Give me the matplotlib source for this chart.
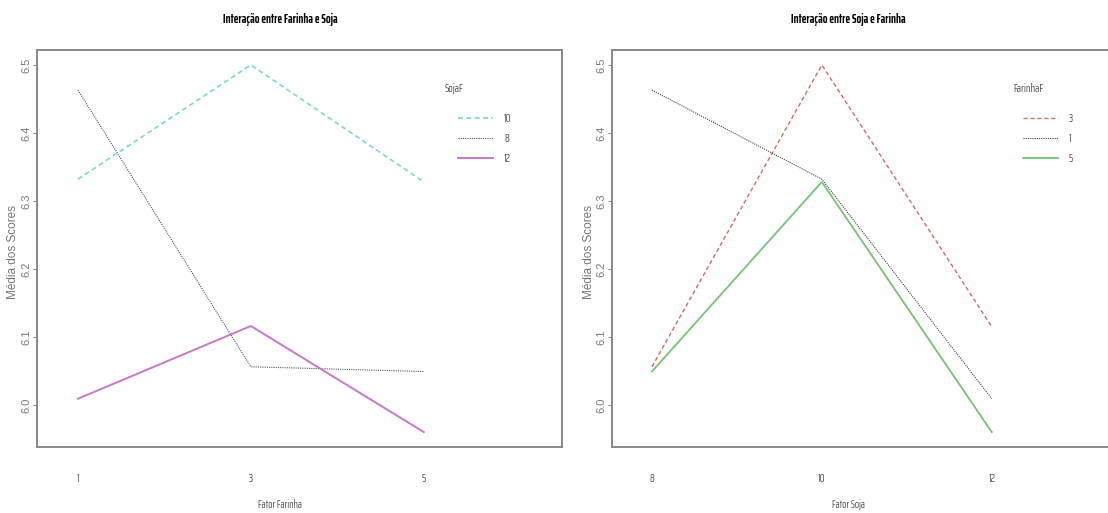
import matplotlib
matplotlib.use("Agg")
import matplotlib.pyplot as plt

# médias
farinha = [1, 3, 5]
soja = [8, 10, 12]
soja_labels = ["10", "8", "12"]
media_soja10 = [6.332, 6.500, 6.328]
media_soja8 = [6.463, 6.056, 6.049]
media_soja12 = [6.009, 6.116, 5.960]

farinha_labels = ["3", "1", "5"]
media_farinha3 = [6.056, 6.500, 6.115]
media_farinha1 = [6.463, 6.332, 6.009]
media_farinha5 = [6.049, 6.328, 5.960]

yticks = [6.0, 6.1, 6.2, 6.3, 6.4, 6.5]

narrow = ["Saira ExtraCondensed", "Archivo Narrow", "DejaVu Sans"]
wide = ["Liberation Sans", "DejaVu Sans"]
W, H = 1108, 513
fig = plt.figure(figsize=(W / 100, H / 100), dpi=100)


def fx(px):
    return px / W


def fy(py):
    return 1 - py / H


def setup(ax, xticks, xlim):
    ax.set_xlim(*xlim)
    ax.set_ylim(5.938, 6.522)
    ax.set_xticks(xticks)
    ax.set_xticklabels([str(v) for v in xticks], family=narrow, fontsize=8.5, color="#555555")
    ax.set_yticks(yticks)
    ax.set_yticklabels([f"{v:.1f}" for v in yticks], rotation=90, va="center",
                       family=wide, fontsize=8, color="#7a7a7a")
    ax.tick_params(axis="x", length=0, pad=19)
    ax.tick_params(axis="y", length=3, width=0.8, color="#888888", pad=1)
    for s in ax.spines.values():
        s.set_color("#888888")
        s.set_linewidth(1.4)


ax1 = fig.add_axes([fx(37), fy(447), fx(525), 397 / H])
l1, = ax1.plot(farinha, media_soja10, color="#7fd6d6", ls=(0, (3, 2)), lw=1.2)
l2, = ax1.plot(farinha, media_soja8, color="#555555", ls=(0, (1, 1)), lw=0.8)
l3, = ax1.plot(farinha, media_soja12, color="#c878c8", ls="-", lw=1.4)
setup(ax1, farinha, (0.526, 6.6))

ax2 = fig.add_axes([fx(612), fy(447), fx(525), 397 / H])
r1, = ax2.plot(soja, media_farinha3, color="#d46a6a", ls=(0, (3, 2)), lw=1.0)
r2, = ax2.plot(soja, media_farinha1, color="#444444", ls=(0, (1, 1)), lw=0.8)
r3, = ax2.plot(soja, media_farinha5, color="#74c474", ls="-", lw=1.3)
setup(ax2, soja, (7.53, 13.71))

for handles, labels, lx, tx, title in [
        ([l1, l2, l3], soja_labels, 458, 445, "SojaF"),
        ([r1, r2, r3], farinha_labels, 1023, 1013, "FarinhaF")]:
    leg = fig.legend(handles, labels, loc="upper left",
                     bbox_to_anchor=(fx(lx), fy(113)), frameon=False,
                     borderpad=0, borderaxespad=0, handlelength=3.0,
                     handletextpad=0.9, labelspacing=0.75,
                     prop={"family": narrow, "size": 8.5})
    for t in leg.get_texts():
        t.set_color("#555555")
    fig.text(fx(tx), fy(88), title, family=narrow, fontsize=8.5, color="#555555",
             va="center", ha="left")

fig.text(fx(280), fy(20), "Interação entre Farinha e Soja", family=narrow,
         fontsize=9, weight="bold", ha="center", va="center")
fig.text(fx(848), fy(20), "Interação entre Soja e Farinha", family=narrow,
         fontsize=9, weight="bold", ha="center", va="center")

fig.text(fx(280), fy(505), "Fator Farinha", family=narrow, fontsize=8,
         color="#555555", ha="center", va="center")
fig.text(fx(848), fy(505), "Fator Soja", family=narrow, fontsize=8,
         color="#555555", ha="center", va="center")

for x in (13, 589):
    fig.text(fx(x), fy(252), "Média dos Scores", family=wide,
             fontsize=8.5, color="#777777", rotation=90, ha="center", va="center")

fig.savefig("out.png", dpi=100)
